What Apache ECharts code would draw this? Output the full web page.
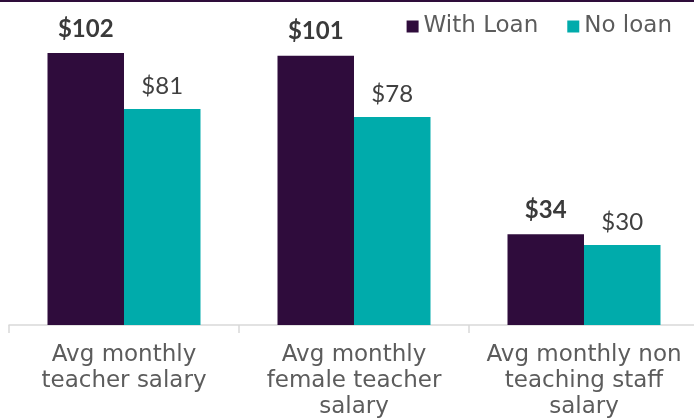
<!DOCTYPE html>
<html>
<head>
<meta charset="utf-8">
<script src="https://cdn.jsdelivr.net/npm/echarts@6/dist/echarts.min.js"></script>
<style>
  html, body { margin: 0; padding: 0; background: #fff; }
  #chart { width: 694px; height: 418px; box-sizing: border-box; border-top: 2px solid #2e0d3a; }
</style>
</head>
<body>
<div id="chart"></div>
<script>
  // data
  const categories = [
    'Avg monthly\nteacher salary',
    'Avg monthly\nfemale teacher\nsalary',
    'Avg monthly non\nteaching staff\nsalary'
  ];
  const withLoan = [102, 101, 34];
  const noLoan = [81, 78, 30];

  const chart = echarts.init(document.getElementById('chart'));
  chart.setOption({
    animation: false,
    textStyle: { fontFamily: 'DejaVu Sans' },
    legend: {
      top: 8,
      right: 17,
      icon: 'rect',
      itemWidth: 12,
      itemHeight: 12,
      itemGap: 29,
      textStyle: { fontSize: 23, color: '#5c5c5c', fontFamily: 'DejaVu Sans' },
      data: ['With Loan', 'No loan']
    },
    grid: { left: 9, top: 3, width: 690, height: 320, outerBoundsMode: 'none', containLabel: false },
    xAxis: {
      type: 'category',
      data: categories,
      axisLine: { lineStyle: { color: '#d9d9d9', width: 1.5 } },
      axisTick: { show: true, length: 8, lineStyle: { color: '#d9d9d9', width: 1.5 } },
      axisLabel: { fontSize: 23, color: '#5c5c5c', lineHeight: 26, margin: 17, interval: 0, fontFamily: 'DejaVu Sans' }
    },
    yAxis: {
      type: 'value',
      min: 0,
      max: 120,
      show: false,
      splitLine: { show: false }
    },
    series: [
      {
        name: 'With Loan',
        type: 'bar',
        data: withLoan,
        barWidth: 76.5,
        barGap: '0%',
        itemStyle: { color: '#2f0c3c' },
        label: {
          show: true, position: 'top', distance: 12,
          formatter: '${c}', fontSize: 24, fontWeight: 'bold', color: '#3a3a3a', fontFamily: 'Lato'
        }
      },
      {
        name: 'No loan',
        type: 'bar',
        data: noLoan,
        barWidth: 76.5,
        itemStyle: { color: '#00abab' },
        label: {
          show: true, position: 'top', distance: 11,
          formatter: '${c}', fontSize: 24, color: '#404040', fontFamily: 'Lato'
        }
      }
    ]
  });
</script>
</body>
</html>
